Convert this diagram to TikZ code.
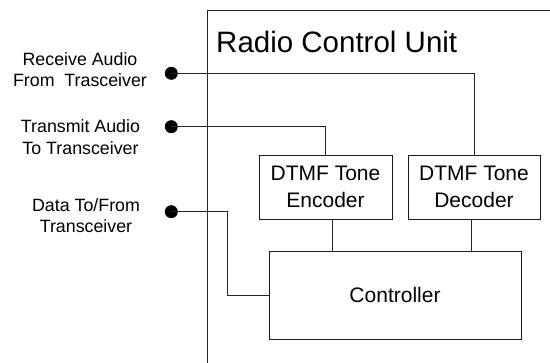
\documentclass[tikz,border=0pt]{standalone}
\usepackage{fontspec}
\setmainfont{Liberation Sans}
\usetikzlibrary{calc}
\begin{document}
\begin{tikzpicture}[x=1bp,y=-1bp,
  wire/.style={line width=0.8bp,draw=black!85},
  pin/.style={circle,fill=black,inner sep=0,minimum size=13bp},
  lbl/.style={inner sep=0,align=center,font=\fontsize{17.8bp}{21.3bp}\selectfont},
  blk/.style={draw=black!90,line width=0.9bp,inner sep=0,align=center,font=\fontsize{21bp}{26.5bp}\selectfont},
]
\useasboundingbox (0,0) rectangle (550,362);
% unit outline
\draw[wire] (551,10) -- (207,10) -- (207,363);
\node[anchor=base west,inner sep=0,font=\fontsize{29.5bp}{34bp}\selectfont] (title) at (216,52.7) {Radio Control Unit};
% blocks
\node[blk,minimum width=133bp,minimum height=64bp] (enc) at (325.5,187) {DTMF Tone\\Encoder};
\node[blk,minimum width=132bp,minimum height=64bp] (dec) at (474,187) {DTMF Tone\\Decoder};
\node[blk,minimum width=252bp,minimum height=88bp] (ctrl) at (395,295) {Controller};
% pins
\node[pin] (rdot) at (171.3,73.3) {};
\node[pin] (tdot) at (171.3,126.7) {};
\node[pin] (ddot) at (171.3,211.7) {};
\node[lbl] (rlbl) at (80,69.7) {Receive Audio\\From\ \ Trasceiver};
\node[lbl] (tlbl) at (80.5,137) {Transmit Audio\\To Transceiver};
\node[lbl] (dlbl) at (86,215.3) {Data To/From\\Transceiver};
% connectors
\draw[wire] (rdot.center) -| (dec.north);
\draw[wire] (tdot.center) -| (enc.north);
\coordinate (dbend) at (227,211.7);
\draw[wire] (ddot.center) -- (dbend) |- (ctrl.west);
\draw[wire] ([xshift=6.5bp]enc.south) -- ([xshift=6.5bp]enc.south |- ctrl.north);
\draw[wire] ([xshift=-3bp]dec.south) -- ([xshift=-3bp]dec.south |- ctrl.north);
\end{tikzpicture}
\end{document}
